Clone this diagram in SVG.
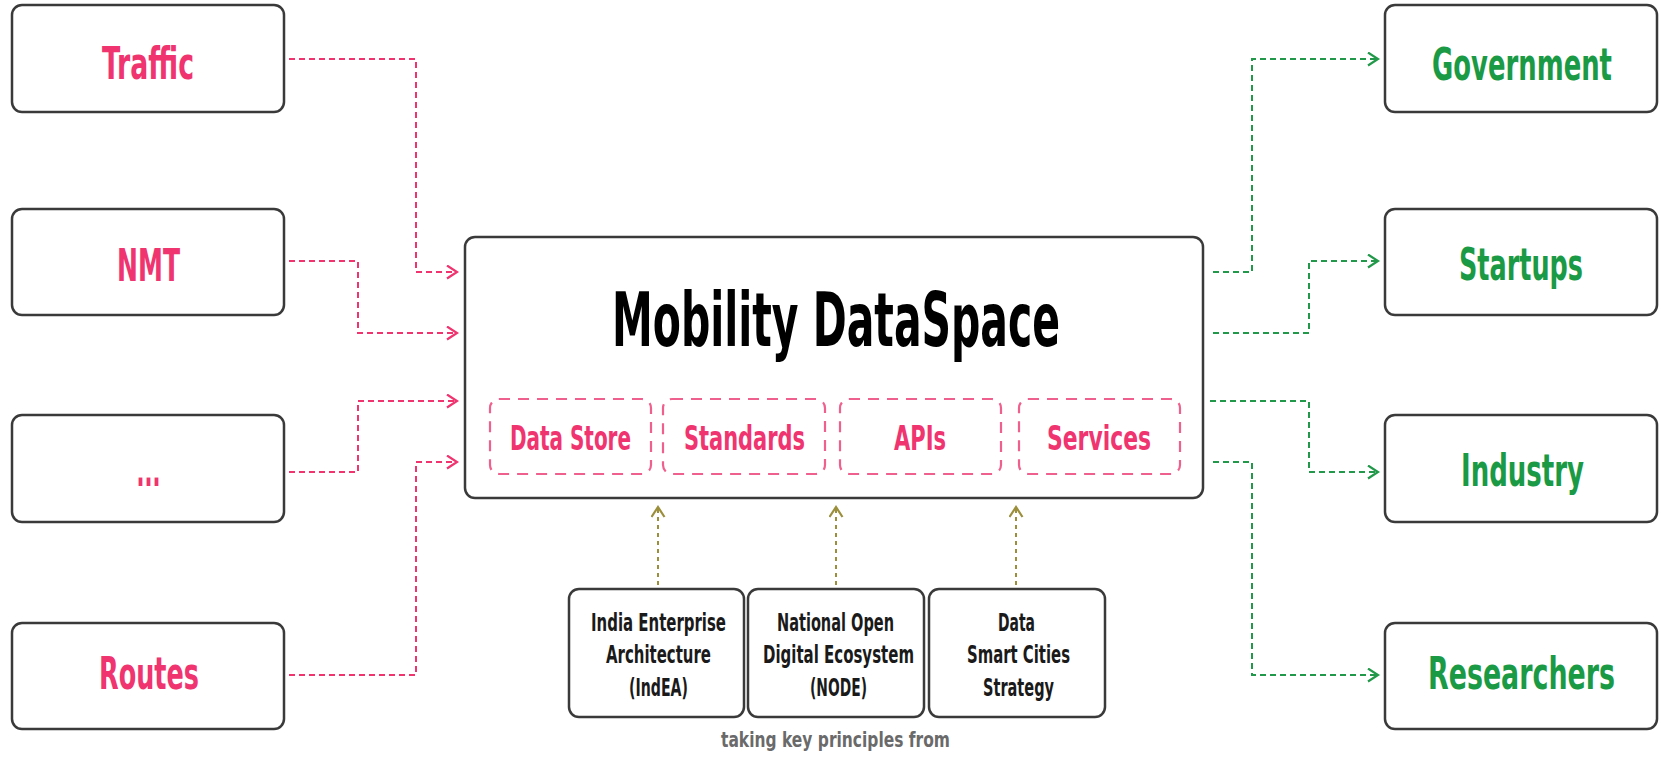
<svg xmlns="http://www.w3.org/2000/svg" width="1661" height="757" viewBox="0 0 1661 757">
  <style>
    .box { fill: #ffffff; stroke: #3a3a3a; stroke-width: 2.5; }
    .sub { fill: none; stroke: #f0608e; stroke-width: 2.2; stroke-dasharray: 11 8; }
    .lbl { font-family: "DejaVu Sans Condensed", "DejaVu Sans", sans-serif; font-stretch: condensed; font-weight: bold; text-anchor: middle; }
    .src { fill: #ef3470; font-size: 45px; }
    .dst { fill: #1b9a46; font-size: 45px; }
    .title { fill: #000000; font-size: 75px; }
    .part { fill: #ef3470; font-size: 34px; }
    .ref { fill: #1a1a1a; font-size: 25px; }
    .note { fill: #6a6a6a; font-size: 22px; }
    .in { fill: none; stroke: #ef3470; stroke-width: 2; stroke-dasharray: 6 4; marker-end: url(#arrPink); }
    .out { fill: none; stroke: #22994a; stroke-width: 2; stroke-dasharray: 6 4; marker-end: url(#arrGreen); }
    .up { fill: none; stroke: #9c8f3c; stroke-width: 2; stroke-dasharray: 4 4; marker-end: url(#arrOlive); }
  </style>
  <defs>
    <marker id="arrPink" markerUnits="userSpaceOnUse" markerWidth="14" markerHeight="16" refX="11" refY="7.5" orient="auto">
      <path d="M1,1 L11,7.5 L1,14" fill="none" stroke="#ef3470" stroke-width="2.2"/>
    </marker>
    <marker id="arrGreen" markerUnits="userSpaceOnUse" markerWidth="14" markerHeight="16" refX="11" refY="7.5" orient="auto">
      <path d="M1,1 L11,7.5 L1,14" fill="none" stroke="#22994a" stroke-width="2.2"/>
    </marker>
    <marker id="arrOlive" markerUnits="userSpaceOnUse" markerWidth="14" markerHeight="16" refX="11" refY="7.5" orient="auto">
      <path d="M1,1 L11,7.5 L1,14" fill="none" stroke="#9c8f3c" stroke-width="2.2"/>
    </marker>
  </defs>

  <rect width="1661" height="757" fill="#ffffff"/>

  <!-- connectors -->
  <g id="connectors">
    <path class="in" d="M289,59 H416 V272 H457"/>
    <path class="in" d="M289,261 H358 V333 H457"/>
    <path class="in" d="M289,472 H358 V401 H457"/>
    <path class="in" d="M289,675 H416 V462 H457"/>
    <path class="out" d="M1213,272 H1252 V59 H1378"/>
    <path class="out" d="M1213,333 H1309 V261 H1378"/>
    <path class="out" d="M1210,401 H1309 V472 H1378"/>
    <path class="out" d="M1213,462 H1252 V675 H1378"/>
    <path class="up" d="M658,585 V507"/>
    <path class="up" d="M836,585 V507"/>
    <path class="up" d="M1016,585 V507"/>
  </g>

  <!-- sources (labels are condensed horizontally to 65%) -->
  <g id="traffic">
    <rect class="box" x="12" y="5" width="272" height="107" rx="10"/>
    <text class="lbl src" transform="translate(148 79) scale(0.65 1)" textLength="141.5" lengthAdjust="spacingAndGlyphs">Traffic</text>
  </g>
  <g id="nmt">
    <rect class="box" x="12" y="209" width="272" height="106" rx="10"/>
    <text class="lbl src" transform="translate(148.5 281) scale(0.65 1)" textLength="96.9" lengthAdjust="spacingAndGlyphs">NMT</text>
  </g>
  <g id="more">
    <rect class="box" x="12" y="415" width="272" height="107" rx="10"/>
    <text class="lbl src" transform="translate(148.5 486) scale(0.65 1)" textLength="36.9" lengthAdjust="spacingAndGlyphs">...</text>
  </g>
  <g id="routes">
    <rect class="box" x="12" y="623" width="272" height="106" rx="10"/>
    <text class="lbl src" transform="translate(149 689) scale(0.65 1)" textLength="153.8" lengthAdjust="spacingAndGlyphs">Routes</text>
  </g>

  <!-- central dataspace -->
  <g id="dataspace">
    <rect class="box" x="465" y="237" width="738" height="261" rx="10"/>
    <text class="lbl title" transform="translate(836 346) scale(0.65 1)" textLength="689.2" lengthAdjust="spacingAndGlyphs">Mobility DataSpace</text>
    <g id="data-store">
      <rect class="sub" x="490" y="399" width="161" height="75" rx="9"/>
      <text class="lbl part" transform="translate(570.5 450) scale(0.65 1)" textLength="186.2" lengthAdjust="spacingAndGlyphs">Data Store</text>
    </g>
    <g id="standards">
      <rect class="sub" x="663" y="399" width="162" height="75" rx="9"/>
      <text class="lbl part" transform="translate(744.5 450) scale(0.65 1)" textLength="186.2" lengthAdjust="spacingAndGlyphs">Standards</text>
    </g>
    <g id="apis">
      <rect class="sub" x="840" y="399" width="161" height="75" rx="9"/>
      <text class="lbl part" transform="translate(920 450) scale(0.65 1)" textLength="80" lengthAdjust="spacingAndGlyphs">APIs</text>
    </g>
    <g id="services">
      <rect class="sub" x="1019" y="399" width="161" height="75" rx="9"/>
      <text class="lbl part" transform="translate(1099 450) scale(0.65 1)" textLength="160" lengthAdjust="spacingAndGlyphs">Services</text>
    </g>
  </g>

  <!-- consumers -->
  <g id="government">
    <rect class="box" x="1385" y="5" width="272" height="107" rx="10"/>
    <text class="lbl dst" transform="translate(1522 80) scale(0.65 1)" textLength="276.9" lengthAdjust="spacingAndGlyphs">Government</text>
  </g>
  <g id="startups">
    <rect class="box" x="1385" y="209" width="272" height="106" rx="10"/>
    <text class="lbl dst" transform="translate(1521 280) scale(0.65 1)" textLength="190.8" lengthAdjust="spacingAndGlyphs">Startups</text>
  </g>
  <g id="industry">
    <rect class="box" x="1385" y="415" width="272" height="107" rx="10"/>
    <text class="lbl dst" transform="translate(1522.5 486) scale(0.65 1)" textLength="189.2" lengthAdjust="spacingAndGlyphs">Industry</text>
  </g>
  <g id="researchers">
    <rect class="box" x="1385" y="623" width="272" height="106" rx="10"/>
    <text class="lbl dst" transform="translate(1521.5 689) scale(0.65 1)" textLength="287.7" lengthAdjust="spacingAndGlyphs">Researchers</text>
  </g>

  <!-- reference frameworks -->
  <g id="indea">
    <rect class="box" x="569" y="589" width="175" height="128" rx="10"/>
    <text class="lbl ref" transform="translate(658.5 631) scale(0.65 1)" textLength="207.7" lengthAdjust="spacingAndGlyphs">India Enterprise</text>
    <text class="lbl ref" transform="translate(658.5 663) scale(0.65 1)" textLength="161.5" lengthAdjust="spacingAndGlyphs">Architecture</text>
    <text class="lbl ref" transform="translate(658.5 696) scale(0.65 1)" textLength="90.8" lengthAdjust="spacingAndGlyphs">(IndEA)</text>
  </g>
  <g id="node">
    <rect class="box" x="748" y="589" width="176" height="128" rx="10"/>
    <text class="lbl ref" transform="translate(835.5 631) scale(0.65 1)" textLength="180" lengthAdjust="spacingAndGlyphs">National Open</text>
    <text class="lbl ref" transform="translate(838.5 663) scale(0.65 1)" textLength="232.3" lengthAdjust="spacingAndGlyphs">Digital Ecosystem</text>
    <text class="lbl ref" transform="translate(838.5 696) scale(0.65 1)" textLength="87.7" lengthAdjust="spacingAndGlyphs">(NODE)</text>
  </g>
  <g id="dscs">
    <rect class="box" x="929" y="589" width="176" height="128" rx="10"/>
    <text class="lbl ref" transform="translate(1016.5 631) scale(0.65 1)" textLength="56.9" lengthAdjust="spacingAndGlyphs">Data</text>
    <text class="lbl ref" transform="translate(1018.5 663) scale(0.65 1)" textLength="158.5" lengthAdjust="spacingAndGlyphs">Smart Cities</text>
    <text class="lbl ref" transform="translate(1018.5 696) scale(0.65 1)" textLength="109.2" lengthAdjust="spacingAndGlyphs">Strategy</text>
  </g>
  <text class="lbl note" transform="translate(835.5 747) scale(0.65 1)" textLength="352.3" lengthAdjust="spacingAndGlyphs">taking key principles from</text>
</svg>
